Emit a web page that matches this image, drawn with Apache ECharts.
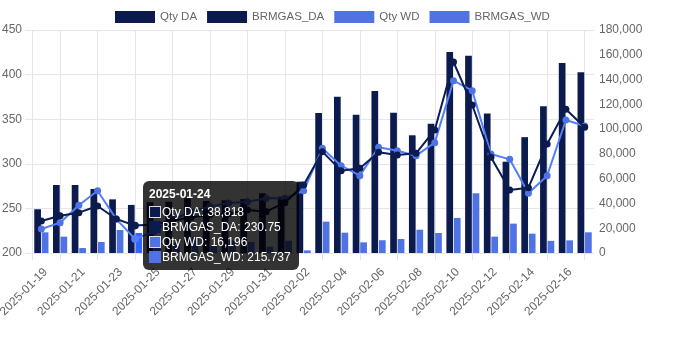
<!DOCTYPE html>
<html><head><meta charset="utf-8">
<script src="https://cdn.jsdelivr.net/npm/echarts@6/dist/echarts.min.js"></script>
<style>html,body{margin:0;padding:0;background:#fff}#c{width:700px;height:350px}</style>
</head><body><div id="c"></div>
<script>
const dates = ['2025-01-19','2025-01-20','2025-01-21','2025-01-22','2025-01-23','2025-01-24','2025-01-25','2025-01-26','2025-01-27','2025-01-28','2025-01-29','2025-01-30','2025-01-31','2025-02-01','2025-02-02','2025-02-03','2025-02-04','2025-02-05','2025-02-06','2025-02-07','2025-02-08','2025-02-09','2025-02-10','2025-02-11','2025-02-12','2025-02-13','2025-02-14','2025-02-15','2025-02-16','2025-02-17'];
const qtyDA = [35300, 54900, 54900, 51700, 43300, 38818, 41000, 41400, 44100, 42000, 42500, 43500, 48200, 45500, 57600, 113000, 126200, 111500, 130800, 113300, 95000, 104400, 162300, 159300, 112700, 73700, 93500, 118400, 153300, 145800];
const brmDA = [235.9, 241.8, 245.2, 252.7, 238.1, 230.75, 232, 236, 240, 243, 244, 248.2, 246.3, 256.4, 276.2, 313.6, 292.3, 295, 312.9, 309.9, 311.8, 337.9, 414.1, 365.9, 307.3, 270.6, 273.2, 322.2, 361.1, 340.9];
const qtyWD = [16700, 13200, 4000, 8900, 18600, 16196, 12000, 8000, 13000, 6000, 10000, 9000, 5100, 9900, 2100, 25300, 16400, 8600, 10300, 11300, 18800, 16100, 28300, 48200, 13200, 23700, 15600, 9800, 10200, 16700];
const brmWD = [226.9, 234, 253.5, 269.8, 238, 215.737, 224, 238, 246, 252, 256, 257.5, 261.3, 261.3, 269.8, 317.4, 297.9, 286.7, 318.5, 314.7, 309.1, 323.7, 393.2, 382, 311, 305, 266.9, 286.7, 349.1, 342.4];
const seriesNames = ['Qty DA', 'BRMGAS_DA', 'Qty WD', 'BRMGAS_WD'];
const leftTicks = {min: 200, max: 450, interval: 50};
const rightTicks = {min: 0, max: 180000, interval: 20000};
const hoverIndex = 5;

const DARK = '#0c1b4d';
const LIGHT = '#4f73e4';
const HOVER = '#2e5cfb';
const GRID = '#e6e6e6';
const FONT = "'Liberation Sans', Arial, Helvetica, sans-serif";
const fmt = v => v.toLocaleString('en-US');

// half-category scaffold axis for Chart.js-style offset grid lines
const halfCats = Array.from({length: dates.length * 2 + 1}, (_, i) => 'h' + i);
const gridPick = (i) => i === 0 || i % 4 === 3;

const chart = echarts.init(document.getElementById('c'), null, {renderer: 'canvas'});

function box(fill, border) {
  return `<span style="display:inline-block;box-sizing:border-box;width:12px;height:12px;background:${fill};border:1px solid ${border};vertical-align:-2px;margin-right:1px"></span>`;
}

chart.setOption({
  animation: false,
  textStyle: {fontFamily: FONT},
  legend: {
    data: seriesNames,
    left: 110, top: 6,
    itemWidth: 40, itemHeight: 12, itemGap: 10,
    icon: 'rect',
    textStyle: {color: '#666', fontSize: 11.5, fontFamily: FONT}
  },
  grid: {left: 32, right: 106, top: 30, bottom: 97, outerBoundsMode: 'none', containLabel: false},
  tooltip: {
    trigger: 'axis',
    triggerOn: 'none',
    alwaysShowContent: true,
    axisPointer: {type: 'none'},
    position: [143, 181],
    transitionDuration: 0,
    backgroundColor: 'rgba(0,0,0,0.8)',
    borderWidth: 0,
    padding: [6, 8, 5, 6],
    extraCssText: 'box-shadow:none;border-radius:6px;',
    formatter: function (params) {
      const i = params[0].dataIndex;
      const row = (b, t) => `<div style="font:12px ${FONT};line-height:15px;color:#fff;white-space:nowrap">${b}${t}</div>`;
      return `<div style="font:bold 12px ${FONT};line-height:14px;color:#fff;margin-bottom:4px">${dates[i]}</div>` +
        row(box(DARK, '#ddd'), `${seriesNames[0]}: ${fmt(qtyDA[i])}`) +
        row(box(DARK, DARK), `${seriesNames[1]}: ${brmDA[i]}`) +
        row(box(LIGHT, '#ddd'), `${seriesNames[2]}: ${fmt(qtyWD[i])}`) +
        row(box(LIGHT, LIGHT), `${seriesNames[3]}: ${brmWD[i]}`);
    }
  },
  xAxis: [{
    type: 'category',
    data: dates,
    boundaryGap: true,
    axisLine: {show: false},
    axisTick: {show: false},
    splitLine: {show: false},
    axisLabel: {
      interval: 1, rotate: 45, margin: 13, verticalAlign: 'top',
      color: '#666', fontSize: 12, fontFamily: FONT
    }
  }, {
    type: 'category',
    data: halfCats,
    boundaryGap: false,
    position: 'bottom',
    axisLine: {show: false},
    axisLabel: {show: false},
    axisTick: {show: true, interval: gridPick, length: 7, lineStyle: {color: GRID}},
    splitLine: {show: true, interval: gridPick, lineStyle: {color: GRID, width: 1}}
  }],
  yAxis: [{
    type: 'value',
    position: 'left',
    min: leftTicks.min, max: leftTicks.max, interval: leftTicks.interval,
    axisLine: {show: false},
    axisTick: {show: true, length: 7, lineStyle: {color: GRID}},
    splitLine: {show: true, lineStyle: {color: GRID}},
    axisLabel: {color: '#666', fontSize: 12, margin: 10, fontFamily: FONT}
  }, {
    type: 'value',
    position: 'right',
    min: rightTicks.min, max: rightTicks.max, interval: rightTicks.interval,
    axisLine: {show: false},
    axisTick: {show: false},
    splitLine: {show: false},
    axisLabel: {color: '#666', fontSize: 12, margin: 5, fontFamily: FONT, formatter: v => fmt(v)}
  }],
  series: [{
    name: seriesNames[0], type: 'bar', xAxisIndex: 0, yAxisIndex: 1,
    data: qtyDA, barWidth: 6.7, barGap: '12%',
    itemStyle: {color: DARK}, z: 2
  }, {
    name: seriesNames[1], type: 'line', xAxisIndex: 0, yAxisIndex: 0,
    data: brmDA, symbol: 'circle', symbolSize: 7, showSymbol: true,
    lineStyle: {color: DARK, width: 2}, itemStyle: {color: DARK}, z: 6
  }, {
    name: seriesNames[2], type: 'bar', xAxisIndex: 0, yAxisIndex: 1,
    data: qtyWD.map((v, i) => i === hoverIndex ? {value: v, itemStyle: {color: HOVER}} : v),
    barWidth: 6.7, barGap: '12%',
    itemStyle: {color: LIGHT}, z: 2
  }, {
    name: seriesNames[3], type: 'line', xAxisIndex: 0, yAxisIndex: 0,
    data: brmWD, symbol: 'circle', symbolSize: 7, showSymbol: true,
    lineStyle: {color: LIGHT, width: 2}, itemStyle: {color: LIGHT}, z: 5
  }]
});
chart.dispatchAction({type: 'showTip', seriesIndex: 0, dataIndex: hoverIndex});
</script>
</body></html>
